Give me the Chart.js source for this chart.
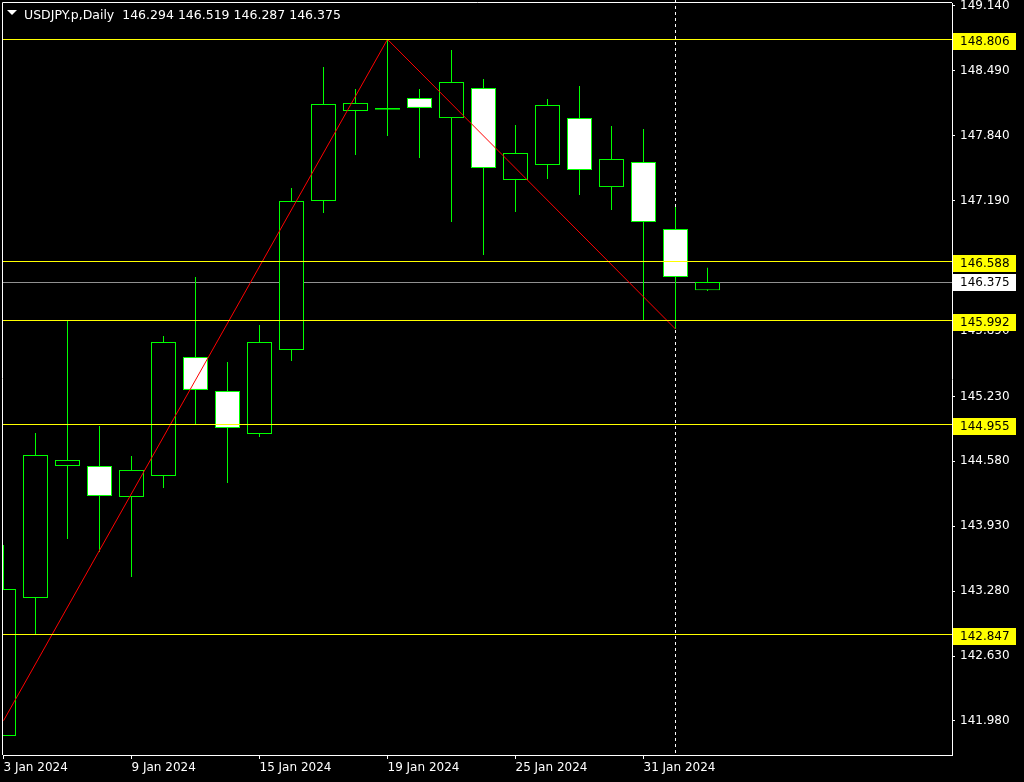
<!DOCTYPE html>
<html>
<head>
<meta charset="utf-8">
<title>USDJPY.p Daily</title>
<script src="https://cdn.jsdelivr.net/npm/chart.js@4.4.1/dist/chart.umd.min.js"></script>
<style>
  html, body { margin: 0; padding: 0; background: #000; }
  #chart-container { position: relative; width: 1024px; height: 782px; }
</style>
</head>
<body>
<div id="chart-container"><canvas id="priceChart"></canvas></div>
<script>
const symbolName = 'USDJPY.p,Daily';

const dates = ['3 Jan 2024', '4 Jan 2024', '5 Jan 2024', '8 Jan 2024', '9 Jan 2024', '10 Jan 2024',
  '11 Jan 2024', '12 Jan 2024', '15 Jan 2024', '16 Jan 2024', '17 Jan 2024', '18 Jan 2024',
  '19 Jan 2024', '22 Jan 2024', '23 Jan 2024', '24 Jan 2024', '25 Jan 2024', '26 Jan 2024',
  '29 Jan 2024', '30 Jan 2024', '31 Jan 2024', '1 Feb 2024', '2 Feb 2024'];

const opens  = [141.830, 143.212, 144.534, 144.534, 144.223, 144.433, 145.625, 145.285, 144.854, 145.695, 147.187, 148.089,
  148.118, 148.219, 148.018, 148.319, 147.398, 147.548, 148.018, 147.327, 147.578, 146.907, 146.294];
const highs  = [143.742, 144.864, 145.986, 144.934, 144.634, 145.835, 146.426, 145.575, 145.946, 147.317, 148.529, 148.309,
  148.806, 148.309, 148.699, 148.409, 147.948, 148.209, 148.339, 147.938, 147.908, 147.127, 146.519];
const lows   = [141.830, 142.847, 143.803, 143.672, 143.422, 144.313, 144.944, 144.363, 144.824, 145.585, 147.067, 147.648,
  147.838, 147.618, 146.977, 146.646, 147.077, 147.408, 147.247, 147.097, 145.992, 145.905, 146.287];
const closes = [143.302, 144.644, 144.594, 144.233, 144.494, 145.775, 145.295, 144.914, 145.775, 147.187, 148.159, 148.169,
  148.100, 148.119, 148.379, 147.518, 147.668, 148.149, 147.498, 147.608, 146.977, 146.426, 146.375];

// price axis labels and date labels on the time axis
const yTicks = [149.140, 148.490, 147.840, 147.190, 146.540, 145.890, 145.230, 144.580, 143.930, 143.280, 142.630, 141.980];
const xTickIdx = [0, 4, 8, 12, 16, 20];

// horizontal levels (yellow) and the zigzag
const levels = [148.806, 146.588, 145.992, 144.955, 142.847];
const zigzagIdx = [0, 12, 21];
const zigzagVals = [141.983, 148.806, 145.905];
const markerIdx = 21;

const GREEN = '#00ff00';
const YELLOW = '#ffff00';

const last = closes.length - 1;
const bidPrice = closes[last];

const overlay = {
  id: 'overlay',
  beforeDraw(chart) {
    const ctx = chart.ctx;
    ctx.save();
    ctx.fillStyle = '#000000';
    ctx.fillRect(0, 0, chart.width, chart.height);
    ctx.restore();
  },
  beforeDatasetsDraw(chart) {
    const { ctx, chartArea, scales } = chart;
    ctx.save();
    // bid line (behind the candles)
    const yb = Math.round(scales.y.getPixelForValue(bidPrice)) + 0.5;
    ctx.strokeStyle = '#909090';
    ctx.lineWidth = 1;
    ctx.beginPath();
    ctx.moveTo(chartArea.left - 1, yb);
    ctx.lineTo(chartArea.right, yb);
    ctx.stroke();
    // dotted period marker
    const xm = Math.floor(scales.x.getPixelForValue(markerIdx)) + 0.5;
    ctx.strokeStyle = '#ffffff';
    ctx.setLineDash([3, 3]);
    ctx.beginPath();
    ctx.moveTo(xm, 0);
    ctx.lineTo(xm, chartArea.bottom);
    ctx.stroke();
    ctx.restore();
  },
  afterDatasetsDraw(chart) {
    const { ctx, chartArea, scales } = chart;
    ctx.save();
    ctx.strokeStyle = YELLOW;
    ctx.lineWidth = 1;
    levels.forEach(v => {
      const y = Math.round(scales.y.getPixelForValue(v)) + 0.5;
      ctx.beginPath();
      ctx.moveTo(chartArea.left - 1, y);
      ctx.lineTo(chartArea.right, y);
      ctx.stroke();
    });
    ctx.restore();
  },
  afterDraw(chart) {
    const { ctx, chartArea, scales } = chart;
    ctx.save();
    // frame
    ctx.strokeStyle = '#ffffff';
    ctx.lineWidth = 1;
    ctx.beginPath();
    ctx.moveTo(chartArea.left - 0.5, chartArea.bottom);
    ctx.lineTo(chartArea.left - 0.5, chartArea.top - 0.5);
    ctx.lineTo(chartArea.right, chartArea.top - 0.5);
    ctx.stroke();

    // price tags on the right
    ctx.font = '12px "DejaVu Sans"';
    ctx.textAlign = 'left';
    ctx.textBaseline = 'middle';
    const tag = (v, bg, up) => {
      const y = Math.round(scales.y.getPixelForValue(v));
      const top = y - up;
      ctx.fillStyle = bg;
      ctx.fillRect(chartArea.right + 1, top, 63, 17);
      ctx.fillStyle = '#000000';
      ctx.fillText(v.toFixed(3), chartArea.right + 8, top + 9);
    };
    levels.forEach(v => tag(v, YELLOW, 6));
    tag(bidPrice, '#ffffff', 8);

    // title
    ctx.fillStyle = '#ffffff';
    ctx.beginPath();
    ctx.moveTo(7, 10);
    ctx.lineTo(17, 10);
    ctx.lineTo(12, 15);
    ctx.closePath();
    ctx.fill();
    const ohlc = [opens[last], highs[last], lows[last], closes[last]].map(v => v.toFixed(3)).join(' ');
    ctx.font = '12.5px "DejaVu Sans"';
    ctx.textBaseline = 'alphabetic';
    ctx.fillText(symbolName + '  ' + ohlc, 24, 19);
    ctx.restore();
  }
};

Chart.defaults.font.family = '"DejaVu Sans", sans-serif';
Chart.defaults.font.size = 12;
Chart.defaults.color = '#ffffff';

const ctx = document.getElementById('priceChart').getContext('2d');
new Chart(ctx, {
  type: 'bar',
  data: {
    datasets: [
      {
        type: 'line',
        label: 'ZigZag',
        data: zigzagIdx.map((x, i) => ({ x: x, y: zigzagVals[i] })),
        borderColor: '#ff0000',
        borderWidth: 1,
        pointRadius: 0,
        tension: 0,
        order: 0
      },
      {
        label: 'Body',
        data: dates.map((d, i) => ({ x: i, y: [Math.min(opens[i], closes[i]), Math.max(opens[i], closes[i])] })),
        backgroundColor: closes.map((c, i) => c > opens[i] ? '#000000' : '#ffffff'),
        borderColor: GREEN,
        borderWidth: 1,
        borderSkipped: false,
        barThickness: 25,
        grouped: false,
        inflateAmount: 0,
        order: 1
      },
      {
        label: 'Wick',
        data: dates.map((d, i) => ({ x: i, y: [lows[i], highs[i]] })),
        backgroundColor: GREEN,
        borderWidth: 0,
        barThickness: 1,
        grouped: false,
        inflateAmount: 0,
        order: 2
      }
    ]
  },
  options: {
    responsive: true,
    maintainAspectRatio: false,
    animation: false,
    layout: { padding: { left: 3, top: 3, right: 0, bottom: 0 } },
    plugins: {
      legend: { display: false },
      tooltip: { enabled: false },
      title: { display: false }
    },
    scales: {
      x: {
        type: 'linear',
        offset: false,
        min: -0.5 / 32,
        max: -0.5 / 32 + 949 / 32,
        afterBuildTicks: scale => { scale.ticks = xTickIdx.map(v => ({ value: v })); },
        afterFit: scale => { scale.height = 27; scale.paddingLeft = 0; scale.paddingRight = 0; },
        ticks: {
          align: 'start',
          autoSkip: false,
          maxRotation: 0,
          padding: 2,
          color: '#ffffff',
          callback: value => dates[value]
        },
        grid: { offset: false, drawOnChartArea: false, drawTicks: true, tickLength: 4, color: '#ffffff' },
        border: { display: true, color: '#ffffff' }
      },
      y: {
        type: 'linear',
        position: 'right',
        min: 149.140 - 749 / 99.86,
        max: 149.140 + 3 / 99.86,
        afterBuildTicks: scale => { scale.ticks = yTicks.map(v => ({ value: v })); },
        afterFit: scale => { scale.width = 72; scale.paddingTop = 0; scale.paddingBottom = 0; },
        ticks: {
          padding: 5,
          color: '#ffffff',
          callback: value => value.toFixed(3)
        },
        grid: { offset: false, drawOnChartArea: false, drawTicks: true, tickLength: 3, color: '#ffffff' },
        border: { display: true, color: '#ffffff' }
      }
    }
  },
  plugins: [overlay]
});
</script>
</body>
</html>
